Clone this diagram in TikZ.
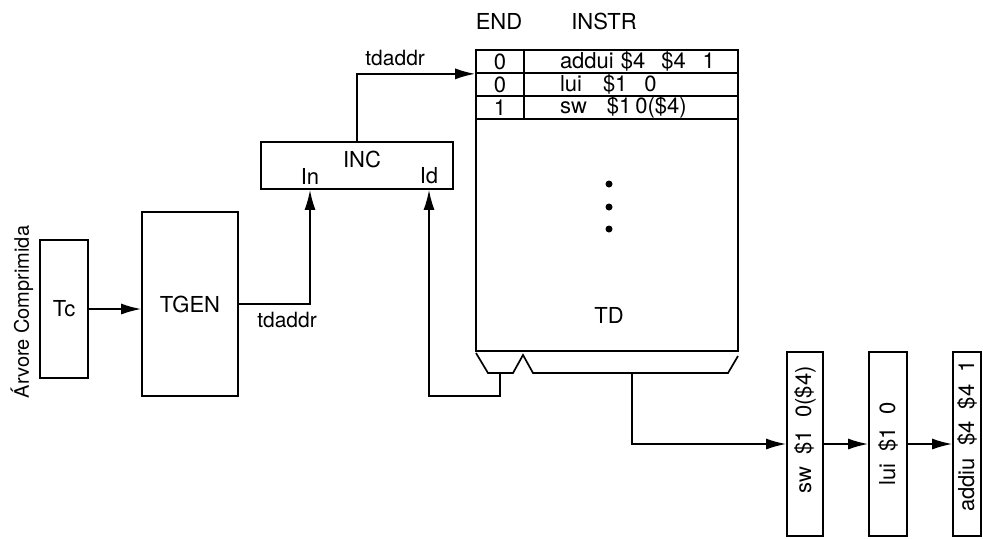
\documentclass[tikz,border=0pt]{standalone}
\usepackage{fontspec}
\setmainfont{TeX Gyre Heros}
\usepackage{graphicx}
\usetikzlibrary{arrows.meta,positioning}
\tikzset{
    pipe diagram/.style = {>={Latex[length=10pt, width=5.5pt]},
                           x=0.5pt, y=-0.5pt,
                           font=\fontsize{11}{13}\selectfont},
    line/.style         = {line width=0.85pt},
    block/.style        = {draw, line, fill=white, inner sep=0pt},
    cell/.style         = {draw, line, inner sep=0pt, minimum height=11.5pt},
    instr/.style        = {cell, text width=107pt, align=left},
    stage/.style        = {block, minimum width=18pt, minimum height=92pt},
    dot/.style          = {circle, fill, inner sep=0pt, minimum size=3.5pt},
    sig/.style          = {inner sep=1pt, font=\fontsize{10.5}{12}\selectfont}
}

\begin{document}
\begin{tikzpicture}[pipe diagram]
\useasboundingbox (0,0) rectangle (983,538);

% Compressed tree feeding the generator
\node[rotate=90, font=\fontsize{10}{12}\selectfont] (treelbl) at (22,312)
    {Árvore Comprimida};
\node[block, minimum width=24pt, minimum height=69pt] (tc) at (64,309) {Tc};
\node[block, minimum width=48pt, minimum height=92pt] (tgen) at (190,304) {TGEN};
\draw[->, line] (tc.east) -- (tgen.west |- tc.east);

% Incrementer with its two inputs
\node[block, minimum width=96pt, minimum height=23.5pt] (inc) at (357,165.5) {};
\node (incname) at (362,159) {INC};
\node (inport) at (310,176) {In};
\node (idport) at (429,176) {Id};

\draw[->, line] (tgen.east) -| (inport |- inc.south);
\node[sig, below right=3pt and 8pt of tgen.east] (addrlo) {tdaddr};

% Decoded table TD
\node[block, minimum width=131pt, minimum height=150.5pt] (td) at (607,200.5) {};
\node (tdname) at (609,315) {TD};
\node (endhdr) at (499,21) {END};
\node (instrhdr) at (604,21) {INSTR};

\node[cell, minimum width=24pt] (e1) at (500,61.5) {0};
\node[cell, minimum width=24pt] (e2) at (500,84.5) {0};
\node[cell, minimum width=24pt] (e3) at (500,107.5) {1};
\node[instr] (i1) at (631,61.5)
    {\hspace*{18pt}addui\hspace{3.5pt}\$4\hspace{8pt}\$4\hspace{8.5pt}1};
\node[instr] (i2) at (631,84.5)
    {\hspace*{18pt}lui\hspace{10.5pt}\$1\hspace{8.5pt}0};
\node[instr] (i3) at (631,107.5)
    {\hspace*{18pt}sw\hspace{10pt}\$1\hspace{2pt}0(\$4)};

\foreach \y [count=\k] in {184,207,229}
    \node[dot] (dot\k) at (609,\y) {};

% Address into the table
\coordinate (bend) at (inc.north |- e1.south west);
\draw[->, line] (inc.north) -- (bend) -- (e1.south west);
\node[sig, above right=3pt and 3pt of bend] (addrhi) {tdaddr};

% Output split under TD
\draw[line] (476,353) -- (488,373) -- (513,373) -- (523,355)
    -- (533,373) -- (728,373) -- (738,356);
\coordinate (tapA) at (500,373);
\coordinate (tapB) at (632,373);
\draw[->, line] (tapA) -- ++(0,23) -| (idport |- inc.south);

% Instruction pipeline
\node[stage] (sw) at (805,444)
    {\rotatebox{90}{\hspace*{14pt}sw\ \ \$1\ \ 0(\$4)}};
\node[stage, minimum width=19pt] (lui) at (888,444)
    {\rotatebox{90}{lui\ \ \$1\ \ 0}};
\node[stage, minimum width=14pt] (addiu) at (967,444)
    {\rotatebox{90}{\hspace*{8pt}addiu\ \ \$4\ \ \$4\ \ 1}};

\draw[->, line] (tapB) |- (sw.west);
\draw[->, line] (sw) -- (lui);
\draw[->, line] (lui) -- (addiu);

\end{tikzpicture}
\end{document}
